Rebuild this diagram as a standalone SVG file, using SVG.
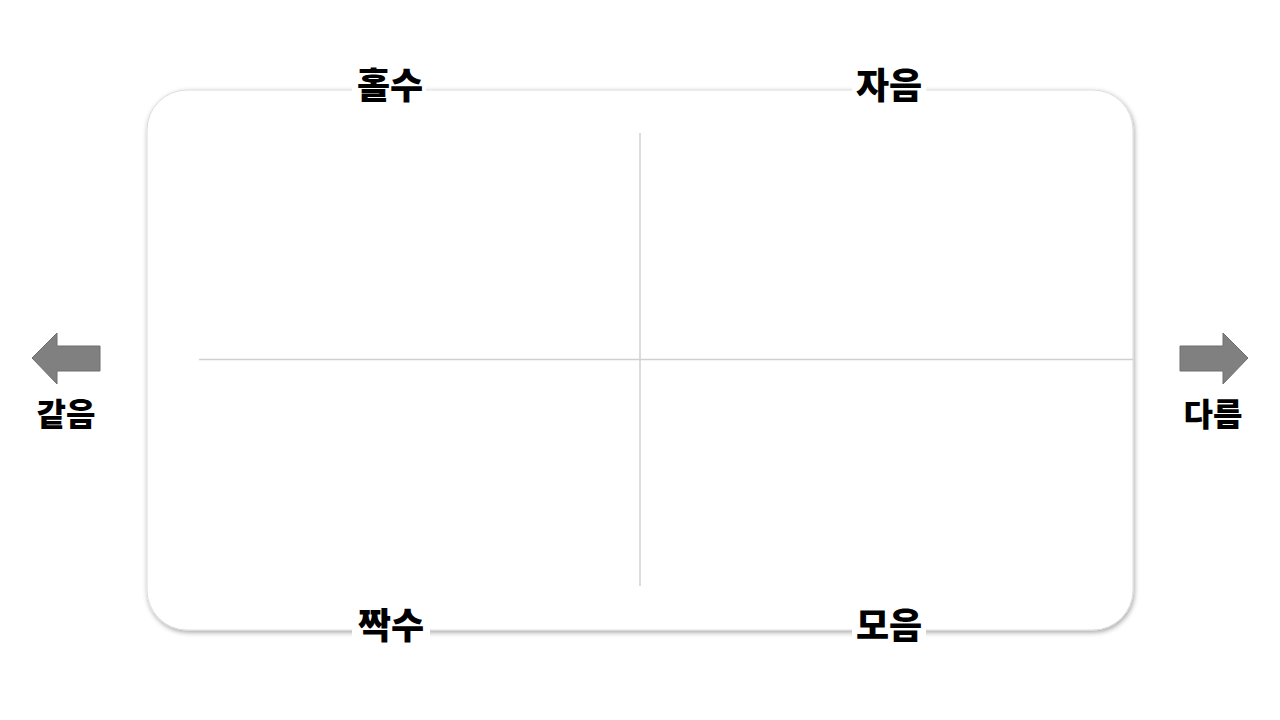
<svg xmlns="http://www.w3.org/2000/svg" width="1280" height="720" viewBox="0 0 1280 720">
<style>
.lbl{font-family:"Noto Sans CJK KR","Noto Sans",sans-serif;font-weight:900;font-size:36px;fill:#000;text-anchor:middle}
.side{font-size:32px}
.grid{stroke:#d0d0d0;stroke-width:1.5;fill:none}
.arrow{fill:#808080;stroke:#6e6e6e;stroke-width:1}
.bg{fill:#fff}
</style>
<defs>
<filter id="sh" x="-5%" y="-8%" width="110%" height="116%">
<feDropShadow dx="1" dy="2" stdDeviation="2.5" flood-color="#000" flood-opacity="0.35"/>
</filter>
</defs>
<rect width="1280" height="720" fill="#fff"/>
<g id="frame">
<rect x="147" y="90" width="986" height="540" rx="40" ry="40" fill="#fff" stroke="#dcdcdc" stroke-width="1" filter="url(#sh)"/>
</g>
<g id="connectors">
<line class="grid" x1="640" y1="133" x2="640" y2="586"/>
<line class="grid" x1="199" y1="359.5" x2="1133" y2="359.5"/>
</g>
<g id="left-arrow">
<polygon class="arrow" points="32,358 57,333 57,346 100,346 100,371 57,371 57,384"/>
<text class="lbl side" x="66" y="426">같음</text>
</g>
<g id="right-arrow">
<polygon class="arrow" points="1248,358 1223,333 1223,346 1180,346 1180,371 1223,371 1223,384"/>
<text class="lbl side" x="1213" y="426">다름</text>
</g>
<g id="odd">
<rect class="bg" x="352" y="78" width="74" height="22"/>
<text class="lbl" x="390" y="99">홀수</text>
</g>
<g id="consonant">
<rect class="bg" x="852" y="78" width="74" height="22"/>
<text class="lbl" x="889" y="99">자음</text>
</g>
<g id="even">
<rect class="bg" x="352" y="618" width="78" height="22"/>
<text class="lbl" x="391" y="639">짝수</text>
</g>
<g id="vowel">
<rect class="bg" x="852" y="618" width="74" height="22"/>
<text class="lbl" x="889" y="639">모음</text>
</g>
</svg>
